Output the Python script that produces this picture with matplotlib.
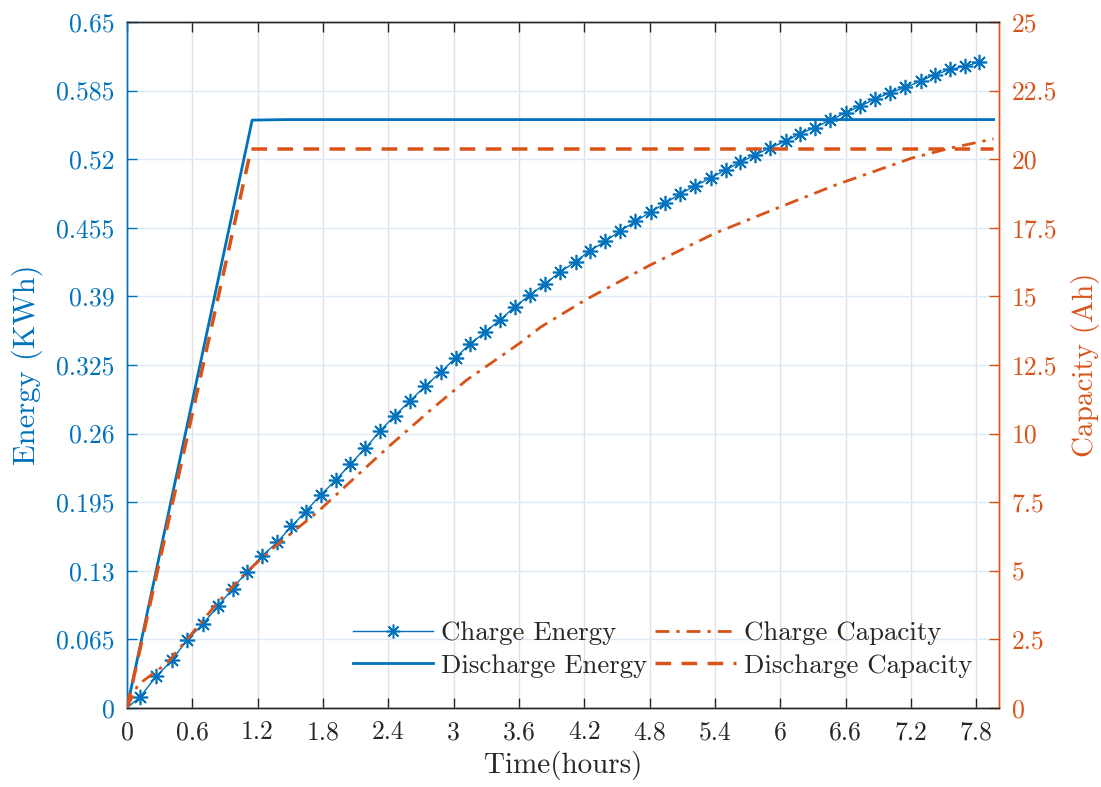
import matplotlib
matplotlib.use("Agg")
import matplotlib.pyplot as plt
from matplotlib.lines import Line2D

# ---------------- data ----------------
charge_t = [0, 0.12, 0.27, 0.41, 0.55, 0.70, 0.84, 0.97, 1.10, 1.24, 1.38,
            1.51, 1.64, 1.78, 1.92, 2.05, 2.19, 2.32, 2.46, 2.60, 2.74,
            2.88, 3.02, 3.15, 3.29, 3.43, 3.56, 3.70, 3.84, 3.98, 4.12,
            4.25, 4.39, 4.53, 4.67, 4.81, 4.94, 5.08, 5.22, 5.36, 5.50,
            5.63, 5.77, 5.91, 6.05, 6.18, 6.32, 6.46, 6.60, 6.73, 6.87,
            7.01, 7.15, 7.29, 7.42, 7.56, 7.70, 7.83]
charge_energy = [0, 0.0104, 0.030, 0.045, 0.064, 0.080, 0.097, 0.113, 0.129, 0.144, 0.157,
                 0.172, 0.186, 0.202, 0.216, 0.231, 0.246, 0.262, 0.277, 0.291, 0.305,
                 0.318, 0.332, 0.345, 0.356, 0.368, 0.380, 0.391, 0.402, 0.413, 0.423,
                 0.433, 0.442, 0.452, 0.461, 0.470, 0.478, 0.487, 0.495, 0.502, 0.510,
                 0.517, 0.524, 0.531, 0.537, 0.544, 0.550, 0.557, 0.564, 0.570, 0.577,
                 0.583, 0.588, 0.594, 0.600, 0.605, 0.608, 0.612]

discharge_t = [0, 1.15, 1.47, 7.96]
discharge_energy = [0, 0.557, 0.5575, 0.5575]

charge_cap_t = [0, 0.1, 0.37, 0.6, 0.83, 1.1, 1.38, 1.75, 2.1, 2.42, 2.81, 3.12,
                3.61, 3.8, 4.21, 4.81, 5.4, 6.0, 6.51, 7.21, 7.56, 7.96]
charge_capacity = [0, 0.84, 1.64, 2.73, 3.83, 4.96, 5.95, 7.14, 8.42, 9.58, 10.93, 11.95,
                   13.3, 13.88, 14.87, 16.15, 17.3, 18.26, 19.06, 20.04, 20.4, 20.74]

discharge_cap_t = [0, 1.14, 7.96]
discharge_capacity = [0, 20.37, 20.37]

x_ticks = [0, 0.6, 1.2, 1.8, 2.4, 3, 3.6, 4.2, 4.8, 5.4, 6, 6.6, 7.2, 7.8]
x_labels = ["0", "0.6", "1.2", "1.8", "2.4", "3", "3.6", "4.2", "4.8", "5.4", "6", "6.6", "7.2", "7.8"]
e_ticks = [0, 0.065, 0.13, 0.195, 0.26, 0.325, 0.39, 0.455, 0.52, 0.585, 0.65]
e_labels = ["0", "0.065", "0.13", "0.195", "0.26", "0.325", "0.39", "0.455", "0.52", "0.585", "0.65"]
c_ticks = [0, 2.5, 5, 7.5, 10, 12.5, 15, 17.5, 20, 22.5, 25]
c_labels = ["0", "2.5", "5", "7.5", "10", "12.5", "15", "17.5", "20", "22.5", "25"]

# ---------------- style ----------------
BLUE = "#0072BD"
ORANGE = "#D95319"
DARK = "#262626"
plt.rcParams['font.family'] = ['cmr10', 'DejaVu Serif']
plt.rcParams['mathtext.fontset'] = 'cm'
plt.rcParams['axes.formatter.use_mathtext'] = True

fig = plt.figure(figsize=(11.01, 7.87), dpi=100)
ax = fig.add_axes([0.1153, 0.1004, 0.7921, 0.8717])
ax2 = ax.twinx()

star = (8, 2, 0)
ax.plot(charge_t, charge_energy, color=BLUE, lw=1.0, marker=star, markersize=11,
        markeredgewidth=1.2, markevery=slice(1, None), zorder=3)
ax.plot(discharge_t, discharge_energy, color=BLUE, lw=2.0, zorder=3)
ax2.plot(charge_cap_t, charge_capacity, color=ORANGE, lw=2.0, dashes=[5, 2.5, 1.2, 2.5], zorder=3)
ax2.plot(discharge_cap_t, discharge_capacity, color=ORANGE, lw=2.5, dashes=[4.5, 3], zorder=3)

ax.set_xlim(0, 8.01)
ax.set_ylim(0, 0.65)
ax2.set_ylim(0, 25)

ax.set_xticks(x_ticks)
ax.set_xticklabels(x_labels)
ax.set_yticks(e_ticks)
ax.set_yticklabels(e_labels)
ax2.set_yticks(c_ticks)
ax2.set_yticklabels(c_labels)

ax.xaxis.grid(True, color="#e2e2e2", lw=1.0)
ax.yaxis.grid(True, color="#dde9f4", lw=1.0)
ax.set_axisbelow(True)

ax.tick_params(axis='x', which='both', direction='in', top=True, length=7, width=1,
               labelsize=18.5, colors=DARK, pad=9)
ax.tick_params(axis='y', direction='in', length=7, width=1, labelsize=18.5,
               colors=BLUE, pad=9)
ax2.tick_params(axis='y', direction='in', length=7, width=1, labelsize=18.5,
                colors=ORANGE, pad=9)

for a in (ax, ax2):
    a.spines['top'].set_color(DARK)
    a.spines['bottom'].set_color(DARK)
    a.spines['left'].set_color(BLUE)
    a.spines['right'].set_color(ORANGE)
    for s in a.spines.values():
        s.set_linewidth(1.0)

ax.set_xlabel("Time(hours)", fontsize=21, color=DARK, labelpad=5)
ax.set_ylabel("Energy (KWh)", fontsize=22, color=BLUE, labelpad=9)
ax2.set_ylabel("Capacity (Ah)", fontsize=21, color=ORANGE, labelpad=10)

handles = [
    Line2D([], [], color=BLUE, lw=1.0, marker=star, markersize=10, markeredgewidth=1.1),
    Line2D([], [], color=BLUE, lw=2.0),
    Line2D([], [], color=ORANGE, lw=2.0, dashes=[5, 2.5, 1.2, 2.5]),
    Line2D([], [], color=ORANGE, lw=2.5, dashes=[4.5, 3]),
]
labels = ["Charge Energy", "Discharge Energy", "Charge Capacity", "Discharge Capacity"]
leg = ax2.legend(handles, labels, ncol=2, loc='center', bbox_to_anchor=(0.614, 0.085),
                 frameon=False, fontsize=19.3, handlelength=3.0, handletextpad=0.3,
                 columnspacing=0.3, labelspacing=0.32, borderpad=0.2, numpoints=1)
for t in leg.get_texts():
    t.set_color(DARK)

fig.savefig("out.png", dpi=100)
